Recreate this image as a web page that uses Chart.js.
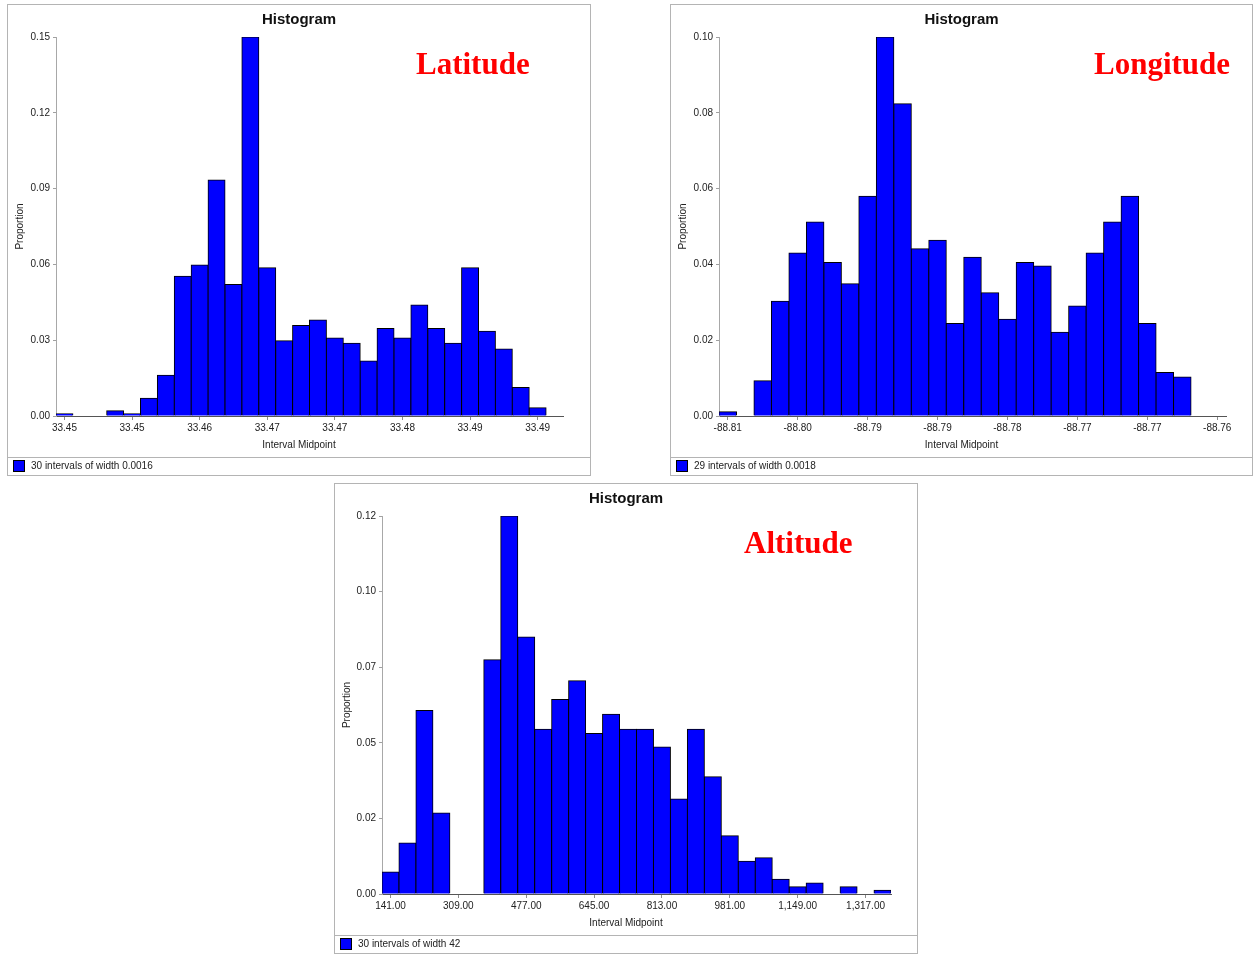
<!DOCTYPE html>
<html>
<head>
<meta charset="utf-8">
<title>Histograms</title>
<script src="https://cdn.jsdelivr.net/npm/chart.js@4.4.1/dist/chart.umd.min.js"></script>
<style>
  body { margin: 0; background: #fff; width: 1253px; height: 954px; position: relative; overflow: hidden;
         font-family: "Liberation Sans", Arial, sans-serif; }
  .panel { position: absolute; box-sizing: border-box; border: 1px solid #b4b4b4; background: #fff; }
  .panel canvas { position: absolute; left: 0; top: 0; }
  .title { position: absolute; left: 0; right: 0; top: 5px; text-align: center; font-size: 15px; line-height: 18px;
           font-weight: bold; color: #111; }
  .xtitle { position: absolute; left: 0; right: 0; text-align: center; font-size: 10px; line-height: 12px; color: #222; }
  .legend { position: absolute; left: 0; right: 0; bottom: 0; height: 18px; box-sizing: border-box;
            border-top: 1px solid #b4b4b4; font-size: 10px; color: #222; }
  .swatch { position: absolute; left: 5px; top: 2px; width: 10px; height: 10px; background: #0000ff; border: 1px solid #000; }
  .legend span { position: absolute; left: 23px; top: 2px; line-height: 12px; white-space: nowrap; }
  .tag { position: absolute; font-family: "Liberation Serif", "Times New Roman", serif; font-weight: bold;
         font-size: 31px; line-height: 31px; color: #ff0000; white-space: nowrap; }
</style>
</head>
<body>

<div class="panel" style="left:7px;top:4px;width:584px;height:472px;">
  <canvas id="latChart" width="582" height="452"></canvas>
  <div class="title">Histogram</div>
  <div class="xtitle" style="top:434px;">Interval Midpoint</div>
  <div class="legend"><div class="swatch"></div><span id="latLegend"></span></div>
</div>
<div class="tag" style="left:416px;top:48px;">Latitude</div>

<div class="panel" style="left:670px;top:4px;width:583px;height:472px;">
  <canvas id="lonChart" width="581" height="452"></canvas>
  <div class="title">Histogram</div>
  <div class="xtitle" style="top:434px;">Interval Midpoint</div>
  <div class="legend"><div class="swatch"></div><span id="lonLegend"></span></div>
</div>
<div class="tag" style="left:1094px;top:48px;">Longitude</div>

<div class="panel" style="left:334px;top:483px;width:584px;height:471px;">
  <canvas id="altChart" width="582" height="451"></canvas>
  <div class="title">Histogram</div>
  <div class="xtitle" style="top:433px;">Interval Midpoint</div>
  <div class="legend"><div class="swatch"></div><span id="altLegend"></span></div>
</div>
<div class="tag" style="left:744px;top:527px;">Altitude</div>

<script>
// Proportion of observations in each interval
const latitudeValues = [0.0009, 0, 0, 0.0021, 0.0009, 0.0070, 0.0161, 0.0553, 0.0598, 0.0934,
                        0.0520, 0.1500, 0.0587, 0.0298, 0.0358, 0.0380, 0.0309, 0.0288, 0.0218, 0.0346,
                        0.0309, 0.0439, 0.0346, 0.0288, 0.0587, 0.0335, 0.0265, 0.0113, 0.0033, 0];
const longitudeValues = [0.0011, 0, 0.0093, 0.0303, 0.0430, 0.0512, 0.0405, 0.0349, 0.0580, 0.1000,
                         0.0824, 0.0441, 0.0464, 0.0244, 0.0419, 0.0325, 0.0255, 0.0405, 0.0396, 0.0221,
                         0.0290, 0.0430, 0.0512, 0.0580, 0.0244, 0.0115, 0.0103, 0, 0];
const altitudeValues = [0.0073, 0.0169, 0.0607, 0.0268, 0, 0, 0.0775, 0.1250, 0.0850, 0.0545,
                        0.0643, 0.0705, 0.0531, 0.0594, 0.0545, 0.0545, 0.0486, 0.0314, 0.0545, 0.0388,
                        0.0193, 0.0108, 0.0120, 0.0049, 0.0024, 0.0036, 0, 0.0024, 0, 0.0012];

// Interval midpoint labels, shown on every fourth interval
const latitudeTicks = ['33.45', '33.45', '33.46', '33.47', '33.47', '33.48', '33.49', '33.49'];
const longitudeTicks = ['-88.81', '-88.80', '-88.79', '-88.79', '-88.78', '-88.77', '-88.77', '-88.76'];
const altitudeTicks = ['141.00', '309.00', '477.00', '645.00', '813.00', '981.00', '1,149.00', '1,317.00'];

// Proportion axis labels
const latitudeYTicks = ['0.00', '0.03', '0.06', '0.09', '0.12', '0.15'];
const longitudeYTicks = ['0.00', '0.02', '0.04', '0.06', '0.08', '0.10'];
const altitudeYTicks = ['0.00', '0.02', '0.05', '0.07', '0.10', '0.12'];

// Legend captions
const latitudeLegend = '30 intervals of width 0.0016';
const longitudeLegend = '29 intervals of width 0.0018';
const altitudeLegend = '30 intervals of width 42';

const FONT = '"Liberation Sans", Arial, sans-serif';
const TICK_EVERY = 4;

function histogram(canvasId, values, xTicks, yTicks, yMax, yStep, yAxisWidth, rightPad) {
  const labels = values.map((_, i) => String(i + 1));
  return new Chart(document.getElementById(canvasId), {
    type: 'bar',
    data: {
      labels: labels,
      datasets: [{
        data: values.map(v => (v > 0 ? v : null)),
        backgroundColor: '#0000ff',
        borderColor: '#000000',
        borderWidth: 1,
        borderSkipped: 'start',
        inflateAmount: 0.5,
        categoryPercentage: 1.0,
        barPercentage: 1.0
      }]
    },
    options: {
      responsive: false,
      animation: false,
      events: [],
      layout: { padding: { left: 0, right: rightPad, top: 32, bottom: 0 } },
      plugins: {
        legend: { display: false },
        tooltip: { enabled: false },
        title: { display: false }
      },
      scales: {
        x: {
          type: 'category',
          offset: true,
          afterFit: s => { s.height = 41; },
          grid: {
            display: true,
            offset: false,
            drawOnChartArea: false,
            drawTicks: true,
            tickLength: 4,
            tickColor: ctx => (ctx.index % TICK_EVERY === 0 ? '#8c8c8c' : 'rgba(0,0,0,0)')
          },
          border: { display: true, color: '#555555', width: 1 },
          ticks: {
            autoSkip: false,
            maxRotation: 0,
            minRotation: 0,
            padding: 2,
            color: '#222',
            font: { family: FONT, size: 10 },
            callback: (v, i) => (i % TICK_EVERY === 0 ? xTicks[i / TICK_EVERY] : '')
          }
        },
        y: {
          type: 'linear',
          min: 0,
          max: yMax,
          afterFit: s => { s.width = yAxisWidth; },
          grid: {
            display: true,
            drawOnChartArea: false,
            drawTicks: true,
            tickLength: 3,
            tickColor: '#a0a0a0'
          },
          border: { display: true, color: '#a8a8a8', width: 1 },
          ticks: {
            stepSize: yStep,
            padding: 3,
            color: '#222',
            font: { family: FONT, size: 10 },
            callback: (v, i) => yTicks[i]
          },
          title: {
            display: true,
            text: 'Proportion',
            color: '#222',
            font: { family: FONT, size: 10 },
            padding: { top: 6, bottom: 0 }
          }
        }
      }
    }
  });
}

document.getElementById('latLegend').textContent = latitudeLegend;
document.getElementById('lonLegend').textContent = longitudeLegend;
document.getElementById('altLegend').textContent = altitudeLegend;

histogram('latChart', latitudeValues, latitudeTicks, latitudeYTicks, 0.15, 0.03, 48, 27);
histogram('lonChart', longitudeValues, longitudeTicks, longitudeYTicks, 0.10, 0.02, 48, 26);
histogram('altChart', altitudeValues, altitudeTicks, altitudeYTicks, 0.125, 0.025, 47, 26);
</script>
</body>
</html>
